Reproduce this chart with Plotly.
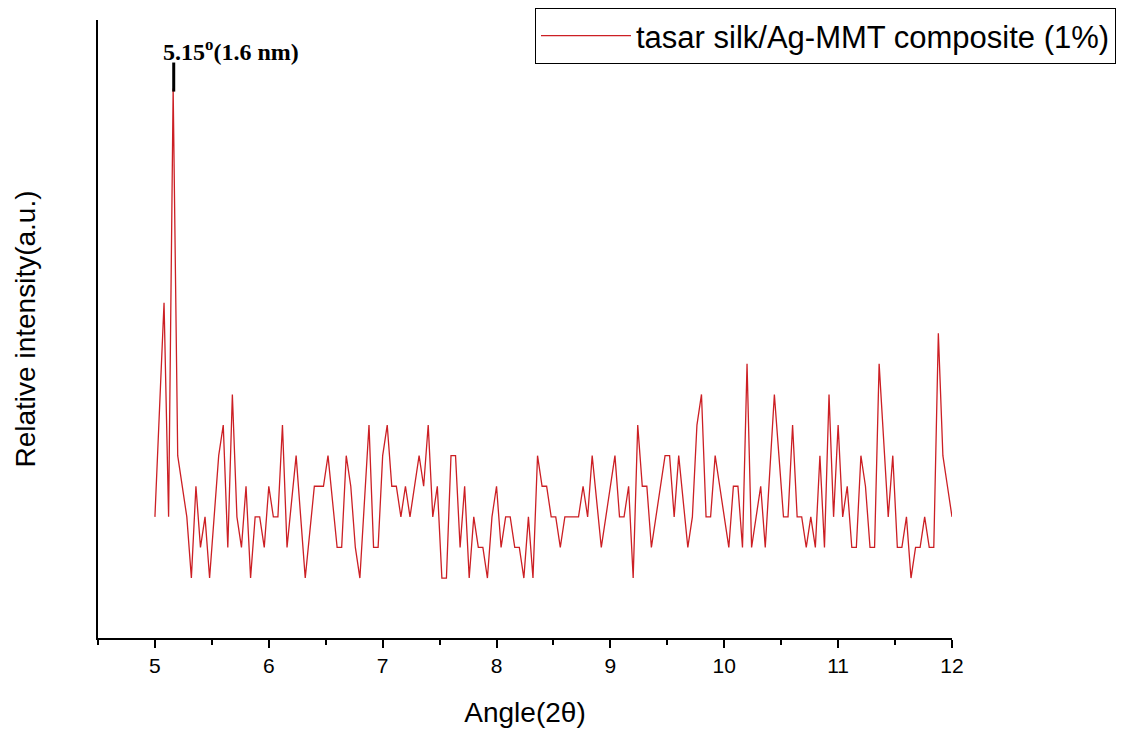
import plotly.graph_objects as go

# XRD scan: 2theta from 5.00 to 12.00 in 0.04 steps
angle_start = 5.0
angle_step = 0.04
intensity = [
    2, 5.5, 9, 2, 16, 4, 3, 2, 0, 3, 1, 2, 0, 2, 4, 5, 1, 6, 2, 1,
    3, 0, 2, 2, 1, 3, 2, 2, 5, 1, 2.5, 4, 2, 0, 1.5, 3, 3, 3, 4, 2.5,
    1, 1, 4, 3, 1, 0, 2.5, 5, 1, 1, 4, 5, 3, 3, 2, 3, 2, 3, 4, 3,
    5, 2, 3, 0, 0, 4, 4, 1, 3, 0, 2, 1, 1, 0, 2, 3, 1, 2, 2, 1,
    1, 0, 2, 0, 4, 3, 3, 2, 2, 1, 2, 2, 2, 2, 3, 2, 4, 2.5, 1, 2,
    3, 4, 2, 2, 3, 0, 5, 3, 3, 1, 2, 3, 4, 4, 2, 4, 2.5, 1, 2, 5,
    6, 2, 2, 4, 3, 2, 1, 3, 3, 1, 7, 1, 2, 3, 1, 3.5, 6, 4, 2, 2,
    5, 2, 2, 1, 2, 1, 4, 1, 6, 2, 5, 2, 3, 1, 1, 4, 3, 1, 1, 7,
    4.5, 2, 4, 1, 1, 2, 0, 1, 1, 2, 1, 1, 8, 4, 3, 2,
]
angle = [round(angle_start + angle_step * i, 2) for i in range(len(intensity))]

series_name = "tasar silk/Ag-MMT composite (1%)"
x_ticks = [5, 6, 7, 8, 9, 10, 11, 12]
peak_angle = 5.165
peak_label = "5.15<sup>o</sup>(1.6 nm)"

fig = go.Figure()
fig.add_trace(go.Scatter(
    x=angle, y=intensity, mode="lines", name=series_name,
    line=dict(color="#cc1f24", width=1.3),
    showlegend=True,
))

# peak marker tick and label
fig.add_shape(type="line", xref="x", yref="y",
              x0=peak_angle, x1=peak_angle, y0=15.9, y1=16.85,
              line=dict(color="black", width=3))
fig.add_annotation(x=peak_angle, y=17.25, xref="x", yref="y",
                   text=peak_label, showarrow=False, xanchor="left",
                   xshift=-13,
                   font=dict(family="Liberation Serif", size=24, color="black",
                             weight="bold"))

W, H = 1126, 738
L_M, R_M, T_M, B_M = 98, 10, 8, 100
axis_right_px = 952
axis_top_px = 20
x_dom_end = (axis_right_px - L_M) / (W - L_M - R_M)
y_dom_end = (H - B_M - axis_top_px) / (H - B_M - T_M)

fig.update_layout(
    width=W, height=H,
    margin=dict(l=L_M, r=R_M, t=T_M, b=B_M, autoexpand=False),
    paper_bgcolor="white", plot_bgcolor="white",
    font=dict(family="Liberation Sans, Arial", color="black"),
    showlegend=True,
    legend=dict(
        x=1.0, y=1.0, xanchor="right", yanchor="top",
        bordercolor="black", borderwidth=1, bgcolor="white",
        font=dict(size=31, family="Liberation Sans, Arial", color="black"),
        itemwidth=90,
    ),
    xaxis=dict(
        domain=[0, x_dom_end],
        range=[4.5, 12.0], tickvals=x_ticks, ticktext=[str(t) for t in x_ticks],
        ticks="outside", ticklen=8, tickwidth=2, tickcolor="black",
        minor=dict(dtick=0.5, tick0=4.5, ticks="outside", ticklen=5, tickwidth=2, tickcolor="black"),
        showline=True, linecolor="black", linewidth=2,
        showgrid=False, zeroline=False,
        tickfont=dict(size=21),
        title=dict(text="Angle(2θ)", font=dict(size=28), standoff=26),
    ),
    yaxis=dict(
        domain=[0, y_dom_end],
        range=[-1.96, 18.24],
        showticklabels=False, ticks="",
        showline=True, linecolor="black", linewidth=2,
        showgrid=False, zeroline=False,
        title=dict(text="Relative intensity(a.u.)", font=dict(size=28), standoff=52),
    ),
)

fig.write_html("out.html", config={"displayModeBar": False},
               post_script="document.body.style.margin='0';")
